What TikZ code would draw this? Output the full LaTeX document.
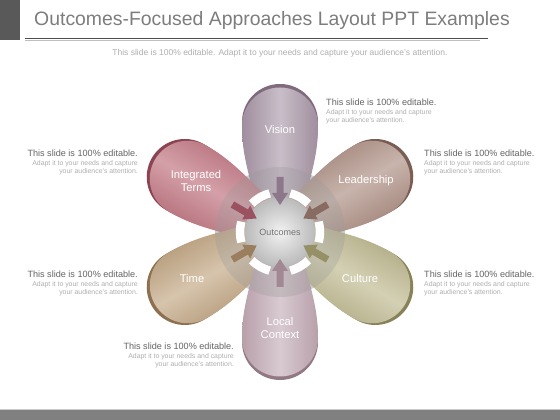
\documentclass[tikz,border=0pt]{standalone}
\usepackage{fontspec}
\setmainfont{Liberation Sans}
\usetikzlibrary{calc}
\definecolor{visD}{RGB}{128,106,126}
\definecolor{visM}{RGB}{160,142,158}
\definecolor{visL}{RGB}{200,190,200}
\definecolor{intD}{RGB}{140,68,82}
\definecolor{intM}{RGB}{176,104,116}
\definecolor{intL}{RGB}{212,160,168}
\definecolor{ledD}{RGB}{122,94,84}
\definecolor{ledM}{RGB}{158,128,118}
\definecolor{ledL}{RGB}{200,180,172}
\definecolor{culD}{RGB}{136,130,88}
\definecolor{culM}{RGB}{172,166,126}
\definecolor{culL}{RGB}{212,208,180}
\definecolor{timD}{RGB}{140,112,80}
\definecolor{timM}{RGB}{176,148,114}
\definecolor{timL}{RGB}{214,196,172}
\definecolor{locD}{RGB}{146,120,130}
\definecolor{locM}{RGB}{184,160,170}
\definecolor{locL}{RGB}{216,202,208}
\definecolor{headc}{RGB}{100,100,100}
\definecolor{smallc}{RGB}{175,175,175}
\definecolor{titlec}{RGB}{125,125,125}
\newcommand\petalpath{(28,-23) .. controls (62,-31) and (80,-38) .. (110,-38) arc[start angle=-90, end angle=90, radius=38] .. controls (80,38) and (62,31) .. (28,23) -- cycle}
\newcommand\arrowpath{(27,0) -- (39,8) -- (39,3.5) -- (55,3.5) -- (55,-3.5) -- (39,-3.5) -- (39,-8) -- cycle}
\tikzset{
  plabel/.style={text=white, font=\fontsize{11.2}{13}\selectfont, align=center, inner sep=0pt},
  infoL/.style={align=left, inner sep=0pt, anchor=north west, text=smallc, font=\fontsize{6.9}{8}\selectfont},
  infoR/.style={align=right, inner sep=0pt, anchor=north east, text=smallc, font=\fontsize{6.9}{8}\selectfont},
}
\newcommand\infotext{{\fontsize{9.1}{10}\selectfont\color{headc}This slide is 100\% editable.}\\[1pt]Adapt it to your needs and capture\\your audience's attention.}
\begin{document}
\begin{tikzpicture}[x=1pt,y=1pt]
\useasboundingbox (0,0) rectangle (560,420);
% header
\fill[fill=white] (0,0) rectangle (560,420);
\fill[black!65] (0,380) rectangle (20,420);
\node[text=titlec, font=\fontsize{19.4}{24}\selectfont, inner sep=0pt] (title) at (272,400) {Outcomes-Focused Approaches Layout PPT Examples};
\draw[black!70, line width=0.8] (25,382) -- (488,382);
\draw[black!25, line width=1.2] (25,379.3) -- (480,379.3);
\node[text=smallc, font=\fontsize{8.5}{10}\selectfont, inner sep=0pt] (sub) at (280,367) {This slide is 100\% editable. Adapt it to your needs and capture your audience's attention.};
% footer
\fill[black!50] (0,0) rectangle (560,10);
\draw[black!20, line width=1] (0,10.5) -- (560,10.5);
% background disc
\coordinate (c) at (280,188);
\fill[black!12] (c) circle[radius=65];
% petals
\foreach \ang/\dk/\md/\lt in {90/visD/visM/visL, 150/intD/intM/intL, 30/ledD/ledM/ledL, -30/culD/culM/culL, 210/timD/timM/timL, 270/locD/locM/locL}{
  \begin{scope}[shift={(c)}, rotate=\ang]
    \fill[\dk] \petalpath;
    \begin{scope}[xshift=-3.5]
      \shade[left color=\md, right color=\md, middle color=\lt, shading angle=\ang] \petalpath;
    \end{scope}
  \end{scope}
}
% translucent ring
\fill[black!40, opacity=0.3] (c) circle[radius=65];
% inner disc
\shade[inner color=black!5, outer color=black!27] (c) circle[radius=35];
% white ring segments
\foreach \ang in {90,30,-30,-90,-150,150}{
  \draw[white, line width=8.5] ($(c)+(\ang+15:40)$) arc[start angle=\ang+15, end angle=\ang+45, radius=40];
}
% arrows
\foreach \ang/\dk/\md in {90/visD/visM, 150/intD/intM, 30/ledD/ledM, -30/culD/culM, 210/timD/timM, 270/locD/locM}{
  \begin{scope}[shift={(c)}, rotate=\ang]
    \fill[\dk!60!\md] \arrowpath;
  \end{scope}
}
\node[text=black!55, font=\fontsize{9}{11}\selectfont, inner sep=0pt] (out) at (c) {Outcomes};
% petal labels
\node[plabel] (vis) at (280,290) {Vision};
\node[plabel] (int) at (196,239) {Integrated\\Terms};
\node[plabel] (led) at (366,239) {Leadership};
\node[plabel] (tim) at (192,141) {Time};
\node[plabel] (cul) at (360,141) {Culture};
\node[plabel] (loc) at (280,92) {Local\\Context};
% info texts
\node[infoL] (t1) at (326,321.3) {\infotext};
\node[infoL] (t2) at (424,270.3) {\infotext};
\node[infoL] (t3) at (424,149) {\infotext};
\node[infoR] (t4) at (138,270.3) {\infotext};
\node[infoR] (t5) at (138,149) {\infotext};
\node[infoR] (t6) at (234,77.3) {\infotext};
\end{tikzpicture}
\end{document}
